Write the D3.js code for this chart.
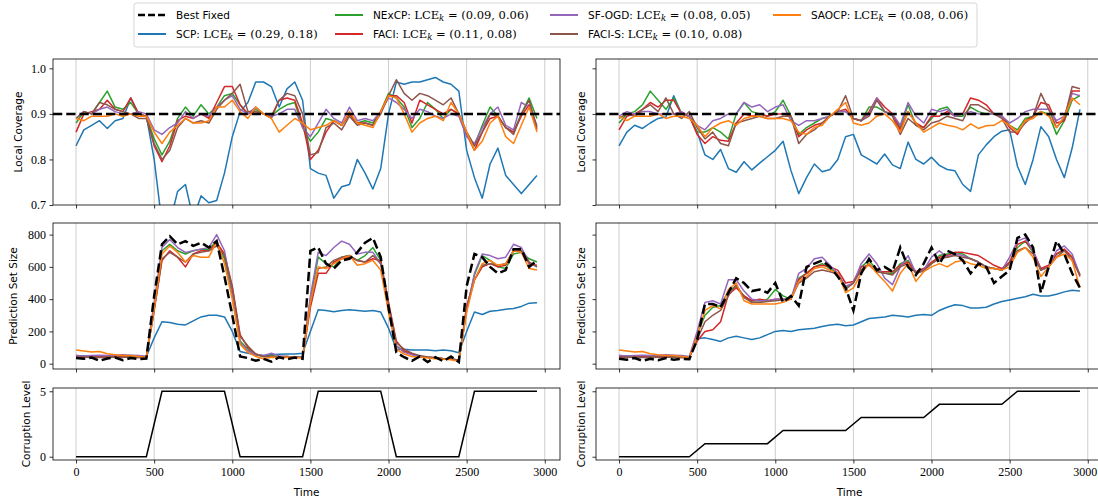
<!DOCTYPE html>
<html><head><meta charset="utf-8">
<script src="https://cdn.jsdelivr.net/npm/d3@7"></script>
<style>body{margin:0;background:#fff} svg{display:block}</style>
</head><body>
<script>
// ---------- DATA ----------
const T = [0,50,100,150,200,250,300,350,400,450,500,550,600,650,700,750,800,850,900,950,
 1000,1050,1100,1150,1200,1250,1300,1350,1400,1450,1500,1550,1600,1650,1700,1750,1800,1850,1900,1950,
 2000,2050,2100,2150,2200,2250,2300,2350,2400,2450,2500,2550,2600,2650,2700,2750,2800,2850,2900,2950];

const seriesNames = ["SCP","NExCP","FACI","SF-OGD","FACI-S","SAOCP"];
const seriesColors = ["#1f77b4","#2ca02c","#d62728","#9467bd","#8c564b","#ff7f0e"];
const lceValues = [[0.29,0.18],[0.09,0.06],[0.11,0.08],[0.08,0.05],[0.10,0.08],[0.08,0.06]];
const targetCoverage = 0.9;

const xTicks = [0,500,1000,1500,2000,2500,3000];
const covTicks = [0.7,0.8,0.9,1.0];
const sizeTicks = [0,200,400,600,800];
const corrTicks = [0,5];

// Local coverage, left (periodic corruption)
const covL_SCP = [0.83,0.865,0.875,0.885,0.868,0.885,0.89,0.935,0.90,0.895,
 0.80,0.66,0.66,0.73,0.745,0.67,0.72,0.705,0.71,0.77,
 0.85,0.905,0.925,0.97,0.97,0.96,0.915,0.955,0.97,0.93,
 0.78,0.77,0.765,0.715,0.74,0.745,0.80,0.77,0.735,0.78,
 0.90,0.97,0.965,0.97,0.97,0.975,0.98,0.97,0.965,0.95,
 0.82,0.76,0.715,0.79,0.825,0.765,0.745,0.725,0.745,0.765];
const covL_NExCP = [0.88,0.905,0.90,0.925,0.95,0.915,0.91,0.925,0.90,0.895,
 0.845,0.81,0.84,0.89,0.915,0.895,0.92,0.90,0.915,0.94,
 0.945,0.92,0.90,0.91,0.90,0.895,0.91,0.92,0.925,0.87,
 0.84,0.86,0.89,0.885,0.875,0.90,0.88,0.885,0.88,0.905,
 0.945,0.935,0.915,0.87,0.89,0.925,0.91,0.89,0.91,0.90,
 0.86,0.83,0.875,0.915,0.895,0.87,0.86,0.90,0.935,0.89];
const covL_FACI = [0.86,0.90,0.905,0.91,0.93,0.91,0.905,0.935,0.90,0.895,
 0.83,0.795,0.83,0.885,0.895,0.89,0.90,0.89,0.925,0.96,
 0.96,0.92,0.90,0.905,0.90,0.895,0.93,0.935,0.93,0.88,
 0.80,0.82,0.86,0.885,0.875,0.90,0.88,0.88,0.875,0.905,
 0.94,0.94,0.925,0.88,0.93,0.92,0.91,0.90,0.91,0.90,
 0.855,0.82,0.86,0.89,0.895,0.87,0.86,0.895,0.92,0.865];
const covL_SFOGD = [0.89,0.905,0.90,0.91,0.915,0.905,0.90,0.90,0.905,0.90,
 0.865,0.855,0.87,0.88,0.905,0.89,0.90,0.895,0.915,0.93,
 0.94,0.91,0.90,0.915,0.90,0.895,0.90,0.91,0.91,0.87,
 0.85,0.88,0.91,0.89,0.88,0.915,0.885,0.89,0.885,0.905,
 0.935,0.925,0.91,0.89,0.91,0.905,0.895,0.89,0.90,0.895,
 0.85,0.835,0.87,0.90,0.915,0.875,0.865,0.925,0.915,0.875];
const covL_FACIS = [0.89,0.905,0.90,0.925,0.92,0.91,0.905,0.90,0.89,0.89,
 0.835,0.80,0.82,0.87,0.89,0.88,0.885,0.88,0.91,0.93,
 0.945,0.965,0.905,0.905,0.90,0.89,0.93,0.945,0.94,0.90,
 0.81,0.815,0.87,0.88,0.865,0.895,0.875,0.88,0.875,0.90,
 0.94,0.975,0.945,0.93,0.945,0.94,0.93,0.92,0.935,0.90,
 0.86,0.83,0.86,0.90,0.895,0.87,0.855,0.90,0.93,0.87];
const covL_SAOCP = [0.89,0.885,0.895,0.895,0.895,0.90,0.895,0.90,0.895,0.895,
 0.86,0.835,0.86,0.875,0.89,0.88,0.88,0.885,0.915,0.915,
 0.93,0.905,0.89,0.915,0.90,0.89,0.86,0.875,0.89,0.88,
 0.865,0.87,0.875,0.885,0.875,0.905,0.88,0.875,0.87,0.905,
 0.94,0.935,0.90,0.86,0.88,0.89,0.895,0.885,0.925,0.90,
 0.86,0.82,0.84,0.88,0.895,0.85,0.835,0.875,0.915,0.86];

// Local coverage, right (increasing corruption)
const covR_SCP = [0.83,0.86,0.875,0.868,0.88,0.89,0.893,0.94,0.90,0.895,
 0.86,0.81,0.80,0.822,0.78,0.772,0.795,0.777,0.792,0.806,
 0.82,0.84,0.776,0.725,0.76,0.79,0.773,0.778,0.80,0.85,
 0.855,0.81,0.80,0.79,0.812,0.788,0.78,0.838,0.80,0.79,
 0.805,0.787,0.778,0.775,0.745,0.73,0.81,0.832,0.85,0.862,
 0.865,0.785,0.745,0.80,0.872,0.85,0.80,0.76,0.825,0.91];
const covR_NExCP = [0.88,0.90,0.905,0.92,0.95,0.93,0.91,0.935,0.90,0.895,
 0.86,0.86,0.87,0.86,0.845,0.90,0.925,0.905,0.90,0.895,
 0.905,0.93,0.895,0.855,0.87,0.88,0.89,0.895,0.905,0.905,
 0.89,0.885,0.915,0.915,0.905,0.90,0.87,0.92,0.875,0.87,
 0.89,0.91,0.915,0.895,0.895,0.915,0.905,0.90,0.90,0.895,
 0.875,0.865,0.89,0.895,0.905,0.90,0.855,0.885,0.93,0.94];
const covR_FACI = [0.865,0.895,0.90,0.91,0.925,0.915,0.93,0.93,0.90,0.895,
 0.855,0.835,0.85,0.842,0.84,0.88,0.90,0.895,0.90,0.895,
 0.90,0.90,0.895,0.85,0.865,0.875,0.88,0.895,0.905,0.91,
 0.89,0.885,0.905,0.935,0.915,0.90,0.865,0.905,0.88,0.87,
 0.895,0.895,0.905,0.895,0.90,0.935,0.93,0.92,0.90,0.895,
 0.87,0.855,0.885,0.895,0.925,0.92,0.88,0.885,0.95,0.95];
const covR_SFOGD = [0.895,0.905,0.90,0.905,0.905,0.90,0.90,0.90,0.905,0.895,
 0.875,0.865,0.885,0.89,0.90,0.90,0.925,0.915,0.92,0.905,
 0.915,0.92,0.885,0.875,0.885,0.885,0.89,0.895,0.905,0.905,
 0.89,0.885,0.90,0.935,0.905,0.90,0.875,0.925,0.895,0.88,
 0.91,0.905,0.91,0.895,0.90,0.905,0.90,0.90,0.90,0.895,
 0.88,0.89,0.905,0.91,0.91,0.91,0.885,0.895,0.945,0.94];
const covR_FACIS = [0.89,0.90,0.895,0.91,0.92,0.905,0.935,0.90,0.89,0.905,
 0.87,0.845,0.86,0.835,0.83,0.88,0.885,0.89,0.895,0.89,
 0.89,0.895,0.895,0.835,0.855,0.865,0.88,0.895,0.905,0.94,
 0.89,0.885,0.895,0.93,0.905,0.895,0.855,0.89,0.875,0.865,
 0.88,0.885,0.895,0.89,0.885,0.92,0.92,0.91,0.90,0.89,
 0.86,0.86,0.88,0.895,0.945,0.91,0.87,0.89,0.96,0.955];
const covR_SAOCP = [0.895,0.885,0.895,0.895,0.895,0.90,0.89,0.895,0.895,0.89,
 0.875,0.85,0.87,0.88,0.885,0.875,0.89,0.895,0.895,0.89,
 0.89,0.89,0.885,0.86,0.855,0.87,0.875,0.895,0.91,0.925,
 0.88,0.875,0.88,0.895,0.90,0.885,0.86,0.905,0.88,0.86,
 0.87,0.88,0.875,0.872,0.865,0.878,0.868,0.874,0.875,0.885,
 0.875,0.86,0.885,0.89,0.905,0.895,0.87,0.895,0.935,0.92];

// Prediction set size, left
const sizeL_Best = [35,30,38,18,32,38,22,35,28,32,
 420,740,790,740,760,730,750,720,760,540,
 300,45,35,18,30,12,40,28,38,30,
 700,720,620,590,640,650,690,750,780,660,
 350,70,40,18,45,10,40,15,45,10,
 480,680,660,600,560,580,710,710,600,640];
const sizeL_SCP = [42,44,46,45,44,46,45,44,46,45,
 160,260,255,245,240,265,290,300,300,290,
 200,75,65,55,50,55,58,60,60,65,
 200,335,330,322,330,335,330,325,330,320,
 220,90,90,85,85,85,80,85,80,68,
 200,320,305,325,330,338,342,355,375,378];
const sizeL_NExCP = [50,48,45,48,45,45,50,48,45,42,
 360,700,740,700,680,700,710,710,760,650,
 420,140,90,55,45,50,45,45,40,40,
 400,660,620,600,660,670,640,670,720,640,
 330,110,75,60,45,40,35,30,30,20,
 330,550,670,640,600,590,680,690,650,630];
const sizeL_FACI = [45,42,40,45,40,42,45,40,38,40,
 330,640,700,660,600,680,700,700,750,680,
 480,180,100,60,45,45,42,45,40,38,
 350,560,560,630,650,660,640,630,650,640,
 380,140,80,60,45,40,35,30,28,20,
 360,520,600,620,600,610,700,700,620,610];
const sizeL_SFOGD = [50,48,50,52,50,52,55,52,50,45,
 380,720,770,720,690,700,710,720,800,700,
 440,130,80,55,50,65,48,45,42,40,
 420,690,670,720,760,740,680,690,690,620,
 340,110,70,55,45,40,35,30,30,20,
 330,560,680,670,650,660,740,720,630,600];
const sizeL_FACIS = [40,40,38,40,38,40,42,40,38,38,
 330,650,690,660,630,680,690,700,730,670,
 470,170,110,60,45,45,42,42,40,38,
 370,590,600,640,660,670,640,630,670,620,
 370,130,90,65,50,42,38,32,30,22,
 340,520,610,620,610,620,700,700,630,600];
const sizeL_SAOCP = [85,78,72,76,62,55,50,50,45,40,
 340,680,730,690,630,670,660,660,760,620,
 400,120,70,45,30,40,38,40,38,35,
 380,600,590,620,650,670,610,620,640,580,
 320,90,60,45,40,35,30,28,25,15,
 320,520,620,640,610,620,700,690,590,580];

// Prediction set size, right
const sizeR_Best = [30,25,35,18,30,22,35,25,30,28,
 150,370,370,350,440,530,500,450,460,440,
 500,380,420,360,600,620,640,600,540,470,
 330,560,650,580,600,570,720,600,550,620,
 720,620,700,680,640,560,620,600,500,540,
 580,780,800,720,440,600,760,680,560,470];
const sizeR_SCP = [40,42,41,43,40,42,41,40,42,41,
 155,160,150,138,160,170,160,150,160,180,
 200,205,200,210,215,220,230,240,245,235,
 240,260,280,285,290,300,295,290,300,305,
 300,330,350,365,360,345,345,350,370,385,
 395,405,415,430,420,420,430,445,455,450];
const sizeR_NExCP = [50,48,45,48,45,45,48,45,45,42,
 180,300,350,360,450,480,420,380,380,400,
 460,420,400,530,560,600,620,590,560,470,
 500,600,640,580,560,560,620,640,560,580,
 620,670,680,690,680,650,630,600,590,580,
 630,720,760,690,580,600,680,700,660,550];
const sizeR_FACI = [45,42,40,45,40,42,45,40,38,40,
 140,200,210,260,430,470,420,390,400,390,
 400,400,400,520,560,600,610,600,580,500,
 510,600,610,570,570,570,610,630,570,590,
 630,660,670,690,690,680,670,640,610,590,
 630,740,760,700,590,610,680,710,660,540];
const sizeR_SFOGD = [50,48,50,52,50,52,55,52,50,45,
 200,380,390,370,520,520,450,400,390,390,
 400,400,400,560,590,650,660,610,560,480,
 500,620,680,620,530,490,600,670,560,580,
 660,700,660,680,670,650,630,600,590,580,
 660,760,780,700,580,600,700,730,680,550];
const sizeR_FACIS = [40,40,38,40,38,40,42,40,38,38,
 150,260,300,330,420,490,410,380,380,385,
 390,395,400,500,530,570,580,570,555,460,
 500,580,620,570,560,550,600,620,560,575,
 620,650,660,670,660,650,630,600,590,580,
 620,700,720,680,580,600,660,700,640,550];
const sizeR_SAOCP = [85,78,72,76,62,55,50,50,45,40,
 170,330,360,340,460,500,390,370,370,370,
 370,380,400,510,540,590,600,580,560,440,
 470,560,620,560,510,450,560,620,510,570,
 600,620,600,630,640,620,610,590,590,580,
 600,690,720,660,540,600,660,680,640,470];

// Corruption level
const corrT = [0,450,550,950,1050,1450,1550,1950,2050,2450,2550,2950];
const corrL = [0,0,5,5,0,0,5,5,0,0,5,5];
const corrR = [0,0,1,1,2,2,3,3,4,4,5,5];

// ---------- DRAW ----------
const W = 1098, H = 501;
const svg = d3.select("body").append("svg").attr("width", W).attr("height", H);
const SANS = "DejaVu Sans", SERIF = "Liberation Serif", MATH = "DejaVu Serif";

const colsX = [[53,560],[596,1103]];
const rowsY = [[59,205],[223,369],[388,460]];
const xDom = [-147.5, 3097.5];

function makePanel(ci, ri, cfg) {
  const [x0,x1] = colsX[ci], [y0,y1] = rowsY[ri];
  const x = d3.scaleLinear().domain(xDom).range([x0,x1]);
  const y = d3.scaleLinear().domain(cfg.yDom).range([y1,y0]);
  const g = svg.append("g");
  const id = "clip" + ci + ri;
  svg.append("clipPath").attr("id", id).append("rect")
    .attr("x", x0).attr("y", y0).attr("width", x1-x0).attr("height", y1-y0);
  g.append("g").selectAll("line").data(xTicks).join("line")
    .attr("x1", d=>x(d)).attr("x2", d=>x(d)).attr("y1", y0).attr("y2", y1)
    .attr("stroke", "#b0b0b0").attr("stroke-width", 0.8).attr("stroke-opacity", 0.8);
  const plot = g.append("g").attr("clip-path", `url(#${id})`);
  cfg.draw(plot, x, y);
  g.append("rect").attr("x", x0).attr("y", y0).attr("width", x1-x0).attr("height", y1-y0)
    .attr("fill", "none").attr("stroke", "#000").attr("stroke-width", 0.8);
  const ax = d3.axisBottom(x).tickValues(xTicks).tickSize(3.5).tickPadding(3.5)
    .tickFormat(cfg.showX ? (d=>String(d)) : (()=>""));
  const gx = g.append("g").attr("transform", `translate(0,${y1})`).call(ax);
  const ay = d3.axisLeft(y).tickValues(cfg.yTicks).tickSize(3.5).tickPadding(3.5)
    .tickFormat(ci === 0 ? cfg.yFmt : (()=>""));
  const gy = g.append("g").attr("transform", `translate(${x0},0)`).call(ay);
  [gx, gy].forEach(a => {
    a.select(".domain").remove();
    a.selectAll(".tick line").attr("stroke", "#000").attr("stroke-width", 0.8);
    a.selectAll(".tick text").attr("font-family", SERIF).attr("font-size", 12).attr("fill", "#000");
  });
  if (cfg.showX && ci === 1) {
    // keep the last label inside the picture edge
    gx.selectAll(".tick text").filter(d => d === 3000).attr("dx", -3);
  }
  const lx = ci === 0 ? cfg.labX : 581;
  const cy = (y0 + y1) / 2;
  g.append("text").attr("transform", `translate(${lx},${cy}) rotate(-90)`)
    .attr("text-anchor", "middle").attr("dominant-baseline", "central")
    .attr("font-family", SANS).attr("font-size", 10.5).attr("fill", "#000").text(cfg.ylab);
  if (cfg.showX) {
    g.append("text").attr("x", (x0+x1)/2).attr("y", 496).attr("text-anchor", "middle")
      .attr("font-family", SANS).attr("font-size", 10.5).attr("fill", "#000").text("Time");
  }
}

function drawSeries(plot, x, y, list, best, hline) {
  const line = d3.line().x((d,i)=>x(T[i])).y(d=>y(d));
  list.forEach((arr, k) => {
    plot.append("path").attr("d", line(arr)).attr("fill", "none")
      .attr("stroke", seriesColors[k]).attr("stroke-width", 1.5).attr("stroke-linejoin", "round");
  });
  if (best) {
    plot.append("path").attr("d", line(best)).attr("fill", "none")
      .attr("stroke", "#000").attr("stroke-width", 2.5).attr("stroke-dasharray", "9.25,4");
  }
  if (hline !== undefined) {
    const [a,b] = x.range();
    plot.append("line").attr("x1", a).attr("x2", b).attr("y1", y(hline)).attr("y2", y(hline))
      .attr("stroke", "#000").attr("stroke-width", 2.5).attr("stroke-dasharray", "9.25,4");
  }
}

const covLeft = [covL_SCP,covL_NExCP,covL_FACI,covL_SFOGD,covL_FACIS,covL_SAOCP];
const covRight = [covR_SCP,covR_NExCP,covR_FACI,covR_SFOGD,covR_FACIS,covR_SAOCP];
const sizeLeft = [sizeL_SCP,sizeL_NExCP,sizeL_FACI,sizeL_SFOGD,sizeL_FACIS,sizeL_SAOCP];
const sizeRight = [sizeR_SCP,sizeR_NExCP,sizeR_FACI,sizeR_SFOGD,sizeR_FACIS,sizeR_SAOCP];

[0,1].forEach(ci => {
  makePanel(ci, 0, {yDom:[0.7,1.0205], yTicks:covTicks, yFmt:d3.format(".1f"), ylab:"Local Coverage", labX:18,
    draw:(p,x,y)=>drawSeries(p,x,y, ci===0?covLeft:covRight, null, targetCoverage)});
  makePanel(ci, 1, {yDom:[-33,872], yTicks:sizeTicks, yFmt:d3.format("d"), ylab:"Prediction Set Size", labX:13,
    draw:(p,x,y)=>drawSeries(p,x,y, ci===0?sizeLeft:sizeRight, ci===0?sizeL_Best:sizeR_Best)});
  makePanel(ci, 2, {yDom:[-0.25,5.25], yTicks:corrTicks, yFmt:d3.format("d"), ylab:"Corruption Level", labX:26, showX:true,
    draw:(p,x,y)=>{
      const lv = ci===0?corrL:corrR;
      const line = d3.line().x((d,i)=>x(corrT[i])).y(d=>y(d));
      p.append("path").attr("d", line(lv)).attr("fill","none").attr("stroke","#000").attr("stroke-width",1.5);
    }});
});

// ---------- LEGEND ----------
const leg = svg.append("g");
leg.append("rect").attr("x",134).attr("y",3).attr("width",843).attr("height",44).attr("rx",2.5)
  .attr("fill","#fff").attr("fill-opacity",0.8).attr("stroke","#cccccc").attr("stroke-width",0.8);
const legCols = [138,335,550,773];
const legRows = [15,34];
const entries = [{name:"Best Fixed", color:"#000", dash:true}].concat(
  seriesNames.map((n,k)=>({name:n+": ", color:seriesColors[k], lce:lceValues[k]})));
entries.forEach((e, idx) => {
  const c = Math.floor(idx/2), r = idx%2;
  const lx = legCols[c], ly = legRows[r];
  leg.append("line").attr("x1",lx).attr("x2",lx+28).attr("y1",ly).attr("y2",ly)
    .attr("stroke",e.color).attr("stroke-width", e.dash?2.5:2)
    .attr("stroke-dasharray", e.dash?"7,3":null);
  const t = leg.append("text").attr("x",lx+38).attr("y",ly+3.8).attr("fill","#000");
  t.append("tspan").attr("font-family",SANS).attr("font-size",10.5).text(e.name);
  if (e.lce) {
    t.append("tspan").attr("font-family",MATH).attr("font-size",11.5).text("LCE");
    t.append("tspan").attr("font-family",MATH).attr("font-style","italic").attr("font-size",8.5).attr("dy",2.5).text("k");
    t.append("tspan").attr("font-family",MATH).attr("font-size",11.5).attr("dy",-2.5)
      .text(" = (" + e.lce[0].toFixed(2) + ", " + e.lce[1].toFixed(2) + ")");
  }
});
</script>
</body></html>
